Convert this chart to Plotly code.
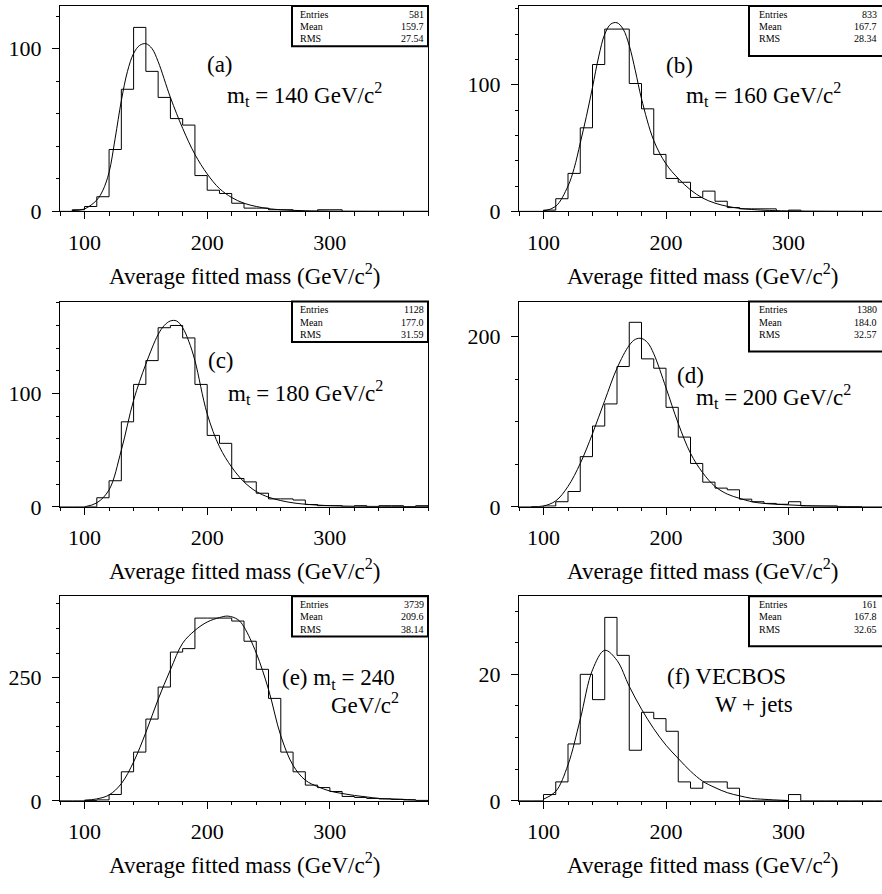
import plotly.graph_objects as go

W, H = 882, 894

# 10 GeV bins, lower edges from 80 to 370
bin_lo = list(range(80, 380, 10))
BIN_W = 10

# --- bin contents -----------------------------------------------------------
counts_a = [0, 1, 3, 9, 38, 75, 113, 86, 70, 57, 53, 22, 13, 11, 5, 2, 2, 1, 1, 0,
            0, 1, 1, 0, 0, 0, 0, 0, 0, 0]
counts_b = [0, 0, 1, 10, 30, 66, 116, 144, 144, 101, 81, 45, 26, 23, 11, 16, 8, 3, 2, 2,
            2, 0, 1, 0, 0, 0, 0, 0, 0, 0]
counts_c = [0, 0, 0, 8, 23, 75, 108, 129, 158, 160, 149, 108, 63, 56, 25, 22, 12, 7, 7, 6,
            2, 1, 1, 0, 1, 0, 1, 1, 0, 1]
counts_d = [0, 0, 1, 6, 18, 59, 95, 121, 165, 217, 174, 163, 117, 82, 51, 29, 22, 20, 9, 6,
            4, 3, 6, 1, 1, 1, 0, 0, 0, 0]
counts_e = [0, 0, 1, 2, 13, 59, 99, 166, 231, 302, 309, 371, 371, 371, 365, 324, 267, 208, 99, 59,
            32, 27, 19, 9, 7, 5, 4, 3, 2, 1]
counts_f = [0, 0, 1, 3, 9, 20, 16, 29, 23, 8, 14, 13, 11, 3, 2, 3, 3, 2, 0, 0,
            0, 0, 1, 0, 0, 0, 0, 0, 0, 0]

# --- fitted curves ------------------------------------------------------------
fit_x_a = [90, 100, 110, 115, 120, 125, 130, 135, 140, 145, 150, 155, 160, 170, 180, 190, 200,
           210, 220, 230, 240, 250, 260, 280, 300, 340, 380]
fit_y_a = [0.5, 1.5, 7, 13, 24, 45, 68, 86, 97, 102, 103, 100, 92, 70, 51, 35, 23,
           14, 8.5, 5, 3, 1.7, 1, 0.4, 0.15, 0.03, 0]

fit_x_b = [100, 110, 120, 125, 130, 135, 140, 145, 150, 155, 160, 165, 170, 175, 180, 190, 200,
           210, 220, 230, 240, 250, 260, 270, 280, 300, 340, 380]
fit_y_b = [0.3, 4, 20, 34, 54, 75, 98, 122, 140, 148, 149, 144, 131, 111, 89, 56, 37.5,
           26, 17, 10.5, 6.5, 4, 2.4, 1.5, 0.9, 0.35, 0.05, 0]

fit_x_c = [100, 110, 120, 130, 140, 150, 160, 165, 170, 175, 180, 185, 190, 200, 210, 220, 230,
           240, 250, 260, 270, 280, 300, 320, 350, 380]
fit_y_c = [0, 3.5, 15, 50, 94, 126, 152, 160, 164, 164, 158, 146, 129, 82, 53, 35, 22,
           13.5, 8.5, 5.5, 3.5, 2.3, 1, 0.5, 0.3, 0.2]

fit_x_d = [90, 100, 110, 120, 130, 140, 150, 160, 170, 175, 180, 185, 190, 200, 210, 220, 230,
           240, 250, 260, 270, 280, 290, 300, 320, 340, 360]
fit_y_d = [0.3, 1, 7, 24, 51, 86, 125, 163, 190, 197, 198, 193, 180, 140, 98, 63, 40,
           24, 15, 10, 6, 4, 3, 2.3, 1, 0.5, 0.2]

fit_x_e = [100, 110, 120, 130, 140, 150, 160, 170, 180, 190, 200, 210, 217, 225, 230, 240, 250,
           260, 270, 280, 290, 300, 310, 320, 330, 340, 350, 370]
fit_y_e = [1.3, 4, 12, 35, 79, 139, 206, 266, 320, 346, 363, 372, 375, 368, 353, 300, 226,
           132, 72, 42, 29, 20, 15, 11, 8, 5, 4, 2]

fit_x_f = [100, 110, 120, 130, 140, 150, 160, 170, 180, 190, 200, 210, 220, 230, 240, 250, 260,
           270, 280, 300]
fit_y_f = [0.26, 1.5, 5.7, 12.9, 20.7, 23.8, 22.2, 18.1, 14.5, 11.4, 8.8, 6.7, 4.7, 3.1, 2.1,
           1.3, 0.8, 0.4, 0.25, 0.05]

# --- statistics boxes ---------------------------------------------------------
entries = [581, 833, 1128, 1380, 3739, 161]
means = [159.7, 167.7, 177.0, 184.0, 209.6, 167.8]
rms = [27.54, 28.34, 31.59, 32.57, 38.14, 32.65]

# --- y axis scales per panel (top of range, major step, minor step) ------------
y_top = [126.2, 162.3, 181.1, 241.4, 415.4, 32.35]
y_major = [100, 100, 100, 200, 250, 20]
y_minor = [20, 20, 20, 50, 50, 5]

counts = [counts_a, counts_b, counts_c, counts_d, counts_e, counts_f]
fits = [(fit_x_a, fit_y_a), (fit_x_b, fit_y_b), (fit_x_c, fit_y_c),
        (fit_x_d, fit_y_d), (fit_x_e, fit_y_e), (fit_x_f, fit_y_f)]

FONT = "Liberation Serif"


def px(x):
    return x / W


def py(y):
    return 1 - y / H


# frame geometry in pixels
col_left = [(60, 428), (519, 882)]
row_top_bot = [(6, 214.5), (306, 514.3), (605, 812.7)]
x_range = [[80, 380], [80, 80 + (882 - 519) / 1.225]]

fig = go.Figure()
layout = dict(
    width=W, height=H, margin=dict(l=0, r=0, t=0, b=0),
    paper_bgcolor="white", plot_bgcolor="white", showlegend=False,
)

shapes = []
annotations = []

for i in range(6):
    r, c = divmod(i, 2)
    k = "" if i == 0 else str(i + 1)
    x0, x1 = col_left[c]
    t, b = row_top_bot[r]

    # step outline of the histogram
    xs = [bin_lo[0]]
    ys = [0]
    for lo, n in zip(bin_lo, counts[i]):
        xs.append(lo)
        ys.append(n)
    xs.append(bin_lo[-1] + BIN_W)
    ys.append(0)
    fig.add_trace(go.Scatter(x=xs, y=ys, mode="lines", line=dict(shape="hv", color="black", width=1),
                             xaxis="x" + k, yaxis="y" + k, hoverinfo="skip"))
    fx, fy = fits[i]
    fig.add_trace(go.Scatter(x=fx, y=fy, mode="lines",
                             line=dict(shape="spline", smoothing=1.0, color="black", width=1),
                             xaxis="x" + k, yaxis="y" + k, hoverinfo="skip"))

    layout["xaxis" + k] = dict(
        domain=[px(x0), px(x1)], range=x_range[c], anchor="y" + k,
        showgrid=False, zeroline=False, showline=True, linecolor="black", linewidth=1,
        mirror=True, ticks="outside", ticklen=7, tickwidth=1, tickcolor="black",
        tick0=0, dtick=100, ticklabelstandoff=4,
        tickfont=dict(family=FONT, size=22, color="black"),
        minor=dict(ticks="outside", ticklen=3.5, tickwidth=1, tickcolor="black",
                   tick0=0, dtick=20, showgrid=False),
    )
    layout["yaxis" + k] = dict(
        domain=[py(b), py(t)], range=[0, y_top[i]], anchor="x" + k,
        showgrid=False, zeroline=False, showline=True, linecolor="black", linewidth=1,
        mirror=(c == 0), ticks="outside", ticklen=7, tickwidth=1, tickcolor="black",
        tick0=0, dtick=y_major[i], ticklabelstandoff=6,
        tickfont=dict(family=FONT, size=22, color="black"),
        minor=dict(ticks="outside", ticklen=3.5, tickwidth=1, tickcolor="black",
                   tick0=0, dtick=y_minor[i], showgrid=False),
    )

    # statistics box
    bx0 = 292 if c == 0 else 749
    bx1 = 428 if c == 0 else 886
    bh = 41 if c == 0 else 50.7
    shapes.append(dict(type="rect", xref="paper", yref="paper",
                       x0=px(bx0), x1=px(bx1), y0=py(t + bh), y1=py(t),
                       line=dict(color="black", width=2), fillcolor="white", layer="above"))
    tx_l = bx0 + 6 if c == 0 else bx0 + 8
    tx_r = 425.5 if c == 0 else 878.5
    rows = [("Entries", f"{entries[i]}"), ("Mean", f"{means[i]:.1f}"), ("RMS", f"{rms[i]:.2f}")]
    for j, (lab, val) in enumerate(rows):
        yy = t + 8.3 + j * 12.6
        annotations.append(dict(text=lab, x=px(tx_l), y=py(yy), xref="paper", yref="paper",
                                xanchor="left", yanchor="middle", showarrow=False,
                                font=dict(family=FONT, size=10, color="black")))
        annotations.append(dict(text=val, x=px(tx_r), y=py(yy), xref="paper", yref="paper",
                                xanchor="right", yanchor="middle", showarrow=False,
                                font=dict(family=FONT, size=10, color="black")))

    # x axis title
    annotations.append(dict(text="Average fitted mass (GeV/c<sup>2</sup>)",
                            x=px((x0 + (886 if c == 1 else x1)) / 2), y=py(b + 64),
                            xref="paper", yref="paper", xanchor="center", yanchor="middle",
                            showarrow=False, font=dict(family=FONT, size=23, color="black")))


def label(text, x, y, xanchor="left"):
    annotations.append(dict(text=text, x=px(x), y=py(y), xref="paper", yref="paper",
                            xanchor=xanchor, yanchor="middle", showarrow=False,
                            font=dict(family=FONT, size=23, color="black")))


label("(a)", 220, 65, "center")
label("m<sub>t</sub> = 140 GeV/c<sup>2</sup>", 225, 96)
label("(b)", 679, 66, "center")
label("m<sub>t</sub> = 160 GeV/c<sup>2</sup>", 684, 96)
label("(c)", 221, 366, "center")
label("m<sub>t</sub> = 180 GeV/c<sup>2</sup>", 226, 398)
label("(d)", 690, 381, "center")
label("m<sub>t</sub> = 200 GeV/c<sup>2</sup>", 694, 402)
label("(e) m<sub>t</sub> = 240", 280, 689)
label("GeV/c<sup>2</sup>", 401, 714, "right")
label("(f) VECBOS", 665, 686)
label("W + jets", 713, 715)

layout["shapes"] = shapes
layout["annotations"] = annotations
fig.update_layout(**layout)
fig.write_html("out.html")
